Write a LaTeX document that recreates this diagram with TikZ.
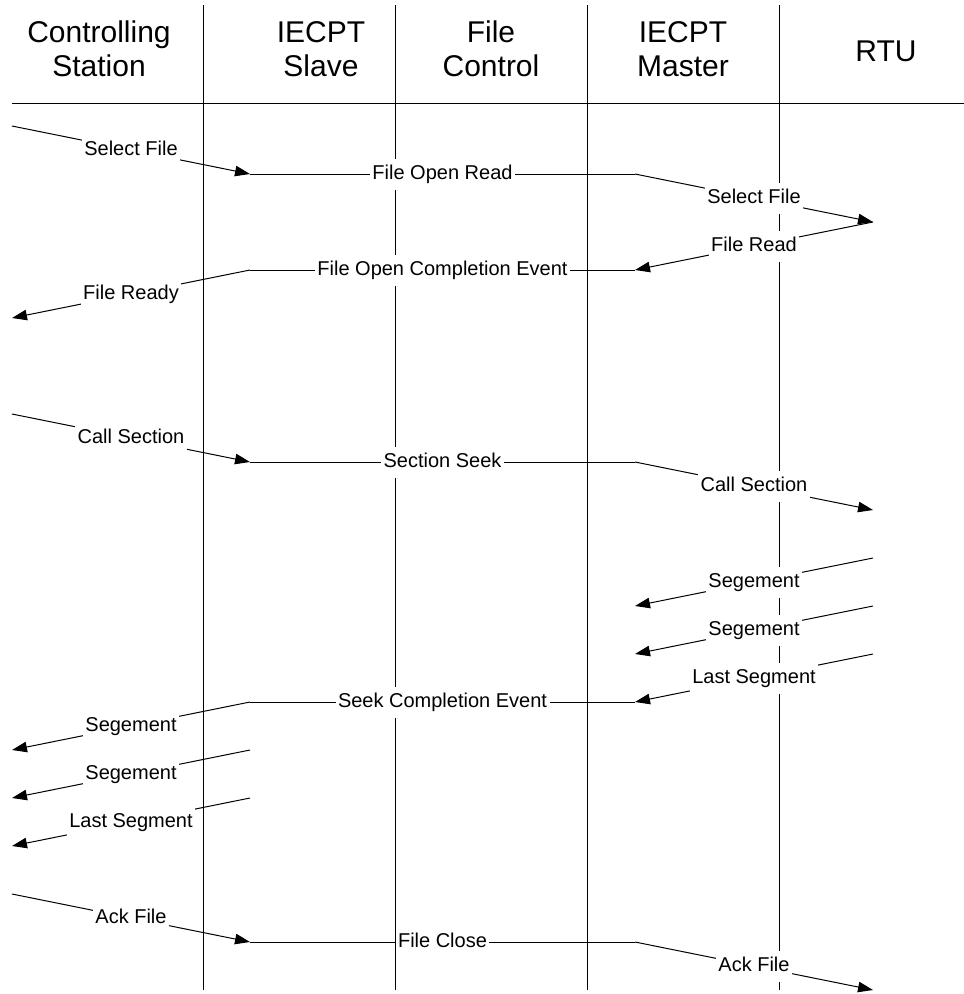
\documentclass[tikz,border=0pt]{standalone}
\usepackage{fontspec}
\setmainfont{Liberation Sans}
\usetikzlibrary{arrows.meta}
\tikzset{
  lifeline/.style={draw=black, line width=1pt},
  msgline/.style={draw=black, line width=1pt},
  msgarrow/.style={msgline, -{Triangle[length=15pt,width=10.5pt]}},
  lbl/.style={fill=white, inner xsep=2.5pt, inner ysep=6pt, text height=15pt, text depth=4pt, font=\fontsize{20}{24}\selectfont},
  hdr/.style={align=center, font=\fontsize{30}{34.5}\selectfont, inner sep=0pt},
}
\begin{document}
\begin{tikzpicture}[x=1pt,y=-1pt]
\useasboundingbox (0,0) rectangle (964,994);
% headers
\node[hdr] (hCS) at (99,49) {Controlling\\Station};
\node[hdr] (hSL) at (321,49) {IECPT\\Slave};
\node[hdr] (hFC) at (491,49) {File\\Control};
\node[hdr] (hMA) at (683,49) {IECPT\\Master};
\node[hdr] (hRT) at (886,51) {RTU};
% lifelines
\coordinate (v1t) at (203,5);  \coordinate (v1b) at (203,990);
\coordinate (v2t) at (395,5);  \coordinate (v2b) at (395,990);
\coordinate (v3t) at (587,5);  \coordinate (v3b) at (587,990);
\coordinate (v4t) at (779,5);  \coordinate (v4b) at (779,990);
\coordinate (hl) at (12,103);  \coordinate (hr) at (964,103);
\draw[lifeline] (v1t) -- (v1b);
\draw[lifeline] (v2t) -- (v2b);
\draw[lifeline] (v3t) -- (v3b);
\draw[lifeline] (v4t) -- (v4b);
\draw[lifeline] (hl) -- (hr);
% points
\coordinate (a1) at (12,126);  \coordinate (a2) at (250,174);
\coordinate (a3) at (635,174); \coordinate (a4) at (873,222);
\coordinate (b1) at (873,222); \coordinate (b2) at (635,270);
\coordinate (b3) at (250,270); \coordinate (b4) at (12,318);
\coordinate (c1) at (12,414);  \coordinate (c2) at (250,462);
\coordinate (c3) at (635,462); \coordinate (c4) at (873,510);
\coordinate (d1) at (873,558); \coordinate (d2) at (635,606);
\coordinate (e1) at (873,606); \coordinate (e2) at (635,654);
\coordinate (f1) at (873,654); \coordinate (f2) at (635,702);
\coordinate (f3) at (250,702); \coordinate (f4) at (12,750);
\coordinate (g1) at (250,750); \coordinate (g2) at (12,798);
\coordinate (k1) at (250,798); \coordinate (k2) at (12,846);
\coordinate (m1) at (12,894);  \coordinate (m2) at (250,942);
\coordinate (m3) at (635,942); \coordinate (m4) at (873,990);
% messages
\draw[msgarrow] (a1) -- node[lbl] (la1) {Select File} (a2);
\draw[msgline]  (a2) -- node[lbl] (la2) {File Open Read} (a3);
\draw[msgarrow] (a3) -- node[lbl] (la3) {Select File} (a4);
\draw[msgarrow] (b1) -- node[lbl] (lb1) {File Read} (b2);
\draw[msgline]  (b2) -- node[lbl] (lb2) {File Open Completion Event} (b3);
\draw[msgarrow] (b3) -- node[lbl] (lb3) {File Ready} (b4);
\draw[msgarrow] (c1) -- node[lbl] (lc1) {Call Section} (c2);
\draw[msgline]  (c2) -- node[lbl] (lc2) {Section Seek} (c3);
\draw[msgarrow] (c3) -- node[lbl] (lc3) {Call Section} (c4);
\draw[msgarrow] (d1) -- node[lbl] (ld1) {Segement} (d2);
\draw[msgarrow] (e1) -- node[lbl] (le1) {Segement} (e2);
\draw[msgarrow] (f1) -- node[lbl] (lf1) {Last Segment} (f2);
\draw[msgline]  (f2) -- node[lbl] (lf2) {Seek Completion Event} (f3);
\draw[msgarrow] (f3) -- node[lbl] (lf3) {Segement} (f4);
\draw[msgarrow] (g1) -- node[lbl] (lg1) {Segement} (g2);
\draw[msgarrow] (k1) -- node[lbl] (lk1) {Last Segment} (k2);
\draw[msgarrow] (m1) -- node[lbl] (lm1) {Ack File} (m2);
\draw[msgline]  (m2) -- node[lbl] (lm2) {File Close} (m3);
\draw[msgarrow] (m3) -- node[lbl] (lm3) {Ack File} (m4);
\end{tikzpicture}
\end{document}
